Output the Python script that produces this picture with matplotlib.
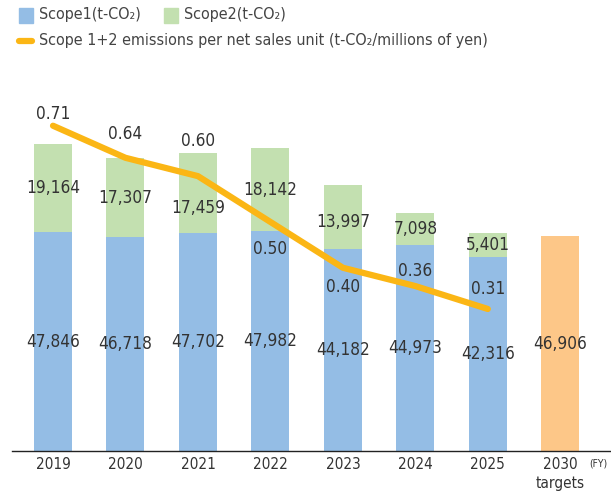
import matplotlib.pyplot as plt
from matplotlib.patches import Rectangle
from matplotlib.lines import Line2D

# data
years = ['2019', '2020', '2021', '2022', '2023', '2024', '2025', '2030\ntargets']
scope1 = [47846, 46718, 47702, 47982, 44182, 44973, 42316]
scope2 = [19164, 17307, 17459, 18142, 13997, 7098, 5401]
target_2030 = 46906
intensity = [0.71, 0.64, 0.60, 0.50, 0.40, 0.36, 0.31]

# label nudges in pixels (to keep labels off the line)
s2_dy = [0, 0, -15, 0, -5, 0, 0]
line_dy = [12, 24, 35, -27, -19, 15, 20]

FONT = ['Liberation Sans Narrow', 'DejaVu Sans']
plt.rcParams['font.family'] = FONT
plt.rcParams['font.stretch'] = 'condensed'
TXT = '#333333'
BLUE = '#94bde5'
GREEN = '#c3e0b0'
ORANGE = '#fdc788'
GOLD = '#fbb615'

fig = plt.figure(figsize=(6.11, 4.92), dpi=100)
ax = fig.add_axes([12/611, 41/492, 599/611, 361/492])
ax2 = ax.twinx()

x = list(range(len(scope1)))
w = 0.524
ax.bar(x, scope1, width=w, color=BLUE, zorder=2)
ax.bar(x, scope2, width=w, bottom=scope1, color=GREEN, zorder=2)
ax.bar([7], [target_2030], width=w, color=ORANGE, zorder=2)

ax.set_xlim(-0.566, 7.70)
ax.set_ylim(0, 78870)
ax2.set_ylim(0, 0.788)

ax2.plot(x, intensity, color=GOLD, lw=4.5, solid_capstyle='round',
         solid_joinstyle='round', zorder=3)

NUM = 12.3
for i in x:
    ax2.annotate(f'{scope1[i]:,}', (i, scope1[i] / 2), xycoords=ax.transData,
                 ha='center', va='center', fontsize=NUM, color=TXT, zorder=5)
    ax2.annotate(f'{scope2[i]:,}', (i, scope1[i] + scope2[i] / 2),
                 xycoords=ax.transData, xytext=(0, s2_dy[i]),
                 textcoords='offset pixels', ha='center', va='center',
                 fontsize=NUM, color=TXT, zorder=5)
    ax2.annotate(f'{intensity[i]:.2f}', (i, intensity[i]), xytext=(0, line_dy[i]),
                 textcoords='offset pixels', ha='center', va='center',
                 fontsize=NUM, color=TXT, zorder=5)
ax2.annotate(f'{target_2030:,}', (7, target_2030 / 2), xycoords=ax.transData,
             ha='center', va='center', fontsize=NUM, color=TXT, zorder=5)

ax.set_xticks(range(len(years)))
ax.set_xticklabels(years, fontsize=11, color=TXT, linespacing=1.4)
ax.tick_params(axis='x', length=0, pad=4)
ax.set_yticks([])
ax2.set_yticks([])
for a in (ax, ax2):
    for s in ('top', 'right', 'left', 'bottom'):
        a.spines[s].set_visible(False)
ax.spines['bottom'].set_visible(True)
ax.spines['bottom'].set_color('#222222')
ax.spines['bottom'].set_linewidth(1)
fig.text(598/611, 1 - 464/492, '(FY)', fontsize=7.5, color=TXT,
         ha='center', va='center')

# legend drawn by hand in figure pixels
def fx(px):
    return px / 611
def fy(py):
    return 1 - py / 492

LEG = 11.5
fig.patches.append(Rectangle((fx(19), fy(23)), 14/611, 15/492, color=BLUE,
                             transform=fig.transFigure))
fig.text(fx(39), fy(15), 'Scope1(t-CO₂)', fontsize=LEG, color='#444444',
         va='center')
fig.patches.append(Rectangle((fx(164), fy(23)), 14/611, 15/492, color=GREEN,
                             transform=fig.transFigure))
fig.text(fx(184), fy(15), 'Scope2(t-CO₂)', fontsize=LEG, color='#444444',
         va='center')
fig.lines.append(Line2D([fx(19), fx(32)], [fy(41), fy(41)], color=GOLD, lw=4.5,
                        solid_capstyle='round', transform=fig.transFigure))
fig.text(fx(39), fy(40), 'Scope 1+2 emissions per net sales unit (t-CO₂/millions of yen)',
         fontsize=LEG, color='#444444', va='center')

fig.savefig('out.png', dpi=100)
